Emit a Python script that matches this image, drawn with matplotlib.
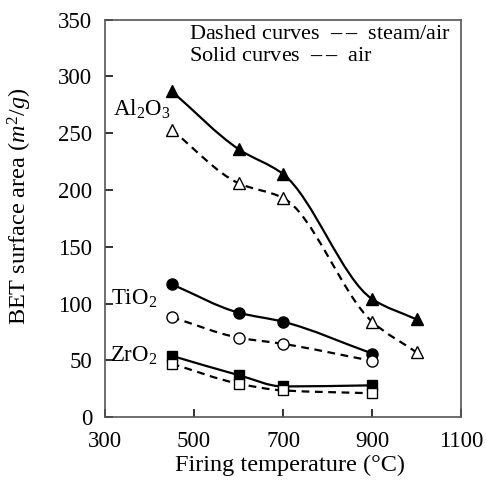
import numpy as np
import matplotlib
matplotlib.use('Agg')
import matplotlib.pyplot as plt
from matplotlib.path import Path
from matplotlib.patches import PathPatch

plt.rcParams['font.family'] = ['Liberation Serif', 'DejaVu Serif']
plt.rcParams['mathtext.fontset'] = 'custom'
plt.rcParams['mathtext.rm'] = 'Liberation Serif'
plt.rcParams['mathtext.it'] = 'Liberation Serif:italic'
plt.rcParams['mathtext.bf'] = 'Liberation Serif:bold'

### Data (firing temperature in C, BET area in m2/g)
T_al = [450, 600, 700, 900, 1000]
al_air = [287, 236, 214, 104, 86]
al_steam = [253, 206, 193, 84, 57]

T_ti = [450, 600, 700, 900]
ti_air = [117, 92, 84, 56]
ti_steam = [88, 70, 64.5, 49.5]

T_zr = [450, 600, 700, 900]
zr_air = [54, 37, 27, 28]
zr_steam = [47, 29.5, 23.5, 21]

xticks = [300, 500, 700, 900, 1100]
yticks = [0, 50, 100, 150, 200, 250, 300, 350]


def smooth_path(x, y):
    # monotone cubic (Fritsch-Carlson) through the points, as bezier segments
    x = np.asarray(x, float)
    y = np.asarray(y, float)
    h = np.diff(x)
    d = np.diff(y) / h
    m = np.zeros_like(y)
    for i in range(1, len(x) - 1):
        if d[i - 1] * d[i] > 0:
            w1 = 2 * h[i] + h[i - 1]
            w2 = h[i] + 2 * h[i - 1]
            m[i] = (w1 + w2) / (w1 / d[i - 1] + w2 / d[i])
    m[0] = d[0]
    m[-1] = d[-1]
    verts = [(x[0], y[0])]
    codes = [Path.MOVETO]
    for i in range(len(x) - 1):
        verts += [(x[i] + h[i] / 3, y[i] + m[i] * h[i] / 3),
                  (x[i + 1] - h[i] / 3, y[i + 1] - m[i + 1] * h[i] / 3),
                  (x[i + 1], y[i + 1])]
        codes += [Path.CURVE4] * 3
    return Path(verts, codes)


def plot_series(ax, x, y, marker, filled, dashed, ms):
    patch = PathPatch(smooth_path(x, y), fill=False, edgecolor='k', lw=1.6,
                      zorder=2)
    if dashed:
        patch.set_linestyle((0, (3.5, 2.5)))
    ax.add_patch(patch)
    ax.plot(x, y, linestyle='none', marker=marker, ms=ms,
            markerfacecolor='k' if filled else 'white',
            markeredgecolor='k', markeredgewidth=1.0, zorder=3)


fig = plt.figure(figsize=(4.86, 4.80), dpi=100)
ax = fig.add_axes([0.216, 0.131, 0.733, 0.828])

plot_series(ax, T_al, al_air, '^', True, False, 8.5)
plot_series(ax, T_al, al_steam, '^', False, True, 8.5)
plot_series(ax, T_ti, ti_air, 'o', True, False, 8)
plot_series(ax, T_ti, ti_steam, 'o', False, True, 8)
plot_series(ax, T_zr, zr_air, 's', True, False, 7)
plot_series(ax, T_zr, zr_steam, 's', False, True, 7)

ax.text(318, 271, r'Al$_2$O$_3$', fontsize=16.5, va='center', ha='left')
ax.text(314, 104, r'TiO$_2$', fontsize=16.5, va='center', ha='left')
ax.text(312, 54, r'ZrO$_2$', fontsize=16.5, va='center', ha='left')

dash = '$\\mathbf{\u2013\\:\u2013}$'
ax.text(0.236, 0.962, 'Dashed curves  ' + dash + '  steam/air',
        transform=ax.transAxes, fontsize=16, va='center', ha='left')
ax.text(0.236, 0.908, 'Solid curves  ' + dash + '  air',
        transform=ax.transAxes, fontsize=16, va='center', ha='left')

ax.set_xlim(300, 1100)
ax.set_ylim(0, 350)
ax.set_xticks(xticks)
ax.set_yticks(yticks)
ax.tick_params(direction='in', length=6, width=1.3, labelsize=16.5,
               color='#222222')
ax.tick_params(axis='x', pad=10)
ax.tick_params(axis='y', pad=9)
for s in ax.spines.values():
    s.set_color('#555555')
    s.set_linewidth(1.2)

ax.set_xlabel('Firing temperature (°C)', fontsize=17.5)
ax.set_ylabel(r'BET surface area ($m^2/g$)', fontsize=17.5)
ax.xaxis.set_label_coords(0.52, -0.094)
ax.yaxis.set_label_coords(-0.20, 0.53)

fig.savefig('out.png', dpi=100)
